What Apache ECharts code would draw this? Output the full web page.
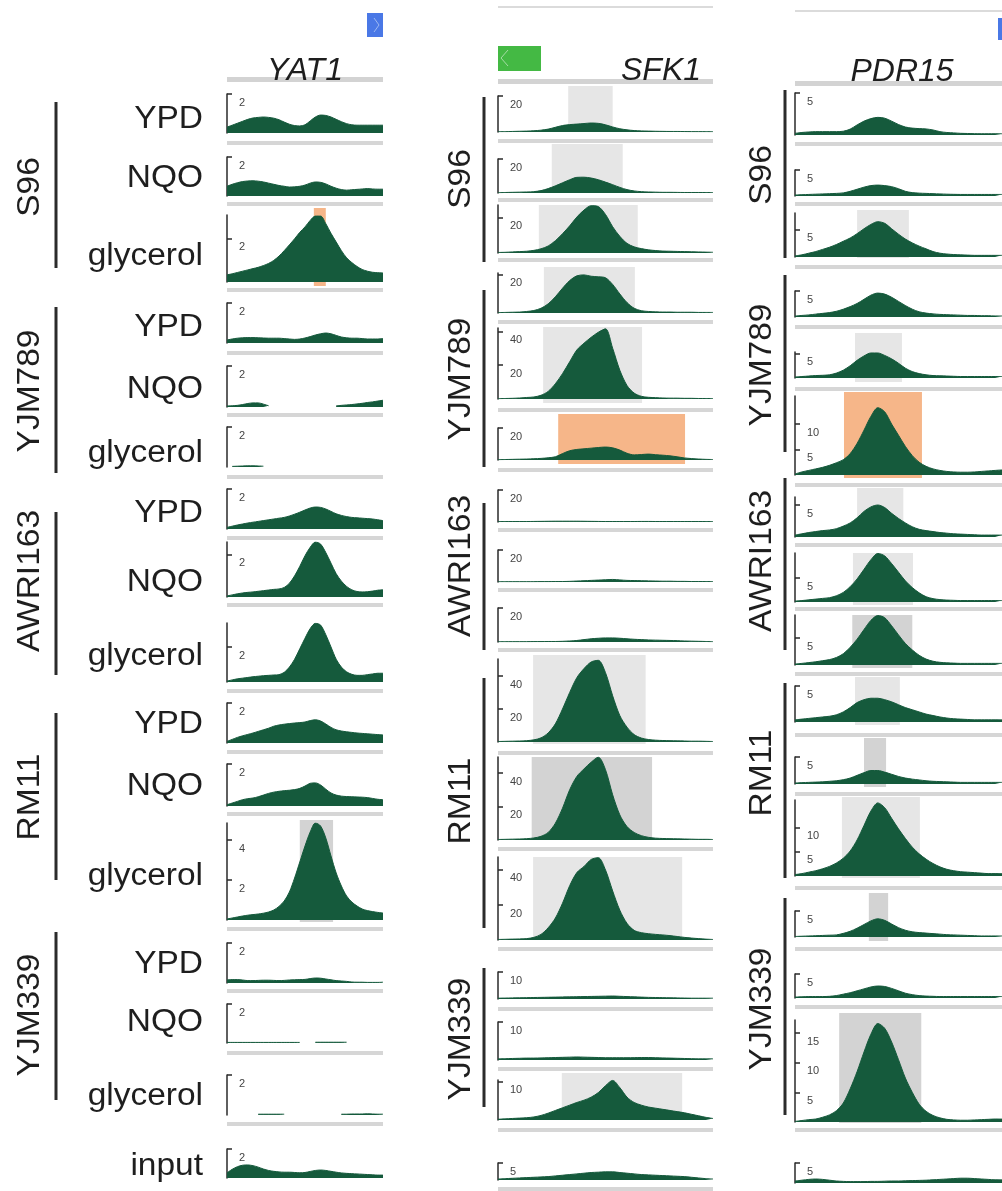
<!DOCTYPE html>
<html>
<head>
<meta charset="utf-8">
<script src="https://cdn.jsdelivr.net/npm/echarts@6/dist/echarts.min.js"></script>
<style>
  html, body { margin: 0; padding: 0; background: #ffffff; }
  #chart { width: 1002px; height: 1191px; }
</style>
</head>
<body>
<div id="chart"></div>
<script>
// ---- categories ----
const genes = ['YAT1', 'SFK1', 'PDR15'];
const strains = ['S96', 'YJM789', 'AWRI163', 'RM11', 'YJM339'];
const conditions = ['YPD', 'NQO', 'glycerol'];
const inputName = 'input';
const BINS = 31; // coverage bins across each gene window ('-' = no reads)

// ---- YAT1 coverage ----
const YAT1_S96_YPD = [0.3,0.4,0.5,0.6,0.7,0.77,0.8,0.82,0.8,0.76,0.68,0.56,0.45,0.38,0.36,0.42,0.62,0.82,0.92,0.9,0.82,0.7,0.58,0.48,0.42,0.4,0.4,0.4,0.4,0.4,0.4];
const YAT1_S96_NQO = [0.5,0.6,0.68,0.74,0.77,0.78,0.76,0.72,0.66,0.6,0.54,0.5,0.46,0.47,0.5,0.56,0.66,0.72,0.7,0.62,0.5,0.4,0.33,0.3,0.32,0.34,0.36,0.38,0.36,0.35,0.35];
const YAT1_S96_GLY = [0.33,0.38,0.44,0.5,0.56,0.62,0.68,0.76,0.86,1.0,1.2,1.45,1.72,2.0,2.3,2.55,2.85,3.05,3.05,2.7,2.25,1.85,1.45,1.12,0.9,0.72,0.58,0.5,0.45,0.43,0.42];
const YAT1_YJM789_YPD = [0.15,0.2,0.24,0.26,0.27,0.27,0.26,0.25,0.24,0.24,0.24,0.22,0.2,0.18,0.2,0.25,0.32,0.4,0.46,0.5,0.46,0.38,0.3,0.26,0.24,0.24,0.22,0.2,0.2,0.2,0.22];
const YAT1_YJM789_NQO = [0.05,0.06,0.08,0.12,0.17,0.2,0.2,0.14,0.06,'-','-','-','-','-','-','-','-','-','-','-','-',0.05,0.08,0.1,0.12,0.15,0.18,0.22,0.25,0.29,0.33];
const YAT1_YJM789_GLY = ['-',0.03,0.04,0.05,0.06,0.06,0.05,0.04,'-','-','-','-','-','-','-','-','-','-','-','-','-','-','-','-','-','-','-','-','-','-','-'];
const YAT1_AWRI163_YPD = [0.08,0.14,0.2,0.25,0.3,0.34,0.38,0.42,0.46,0.5,0.54,0.58,0.65,0.74,0.84,0.95,1.05,1.1,1.08,1.0,0.88,0.76,0.68,0.62,0.58,0.56,0.54,0.52,0.5,0.46,0.42];
const YAT1_AWRI163_NQO = [0.05,0.1,0.15,0.19,0.22,0.24,0.27,0.3,0.33,0.36,0.38,0.45,0.65,1.0,1.45,1.95,2.35,2.6,2.5,2.1,1.6,1.1,0.75,0.5,0.34,0.26,0.24,0.25,0.28,0.32,0.34];
const YAT1_AWRI163_GLY = [0.05,0.12,0.18,0.22,0.26,0.3,0.33,0.36,0.38,0.4,0.42,0.55,0.85,1.3,1.9,2.5,3.05,3.35,3.25,2.7,2.0,1.3,0.85,0.58,0.44,0.38,0.38,0.42,0.46,0.5,0.5];
const YAT1_RM11_YPD = [0.08,0.18,0.28,0.36,0.43,0.5,0.58,0.66,0.74,0.84,0.9,0.94,0.97,1.0,1.02,1.05,1.12,1.16,1.1,0.95,0.78,0.66,0.6,0.56,0.53,0.5,0.48,0.46,0.44,0.42,0.4];
const YAT1_RM11_NQO = [0.06,0.14,0.22,0.3,0.35,0.38,0.44,0.52,0.6,0.66,0.7,0.73,0.75,0.78,0.84,0.95,1.08,1.1,1.0,0.8,0.62,0.52,0.47,0.45,0.44,0.43,0.42,0.4,0.36,0.32,0.3];
const YAT1_RM11_GLY = [0.05,0.1,0.15,0.2,0.24,0.27,0.3,0.34,0.4,0.5,0.68,0.95,1.4,2.1,2.9,3.7,4.4,4.85,4.7,4.1,3.2,2.35,1.7,1.2,0.9,0.7,0.55,0.47,0.42,0.38,0.35];
const YAT1_YJM339_YPD = [0.15,0.17,0.17,0.15,0.12,0.12,0.13,0.14,0.14,0.13,0.12,0.13,0.15,0.16,0.17,0.18,0.22,0.25,0.24,0.2,0.16,0.12,0.1,0.08,0.05,0.04,0.04,0.03,0.03,0.03,0.04];
const YAT1_YJM339_NQO = [0.03,0.03,0.03,0.03,0.03,0.03,0.03,0.03,0.03,0.03,0.03,0.03,0.03,0.03,0.03,'-','-',0.04,0.04,0.04,0.04,0.04,0.04,0.04,'-','-','-','-','-','-','-'];
const YAT1_YJM339_GLY = ['-','-','-','-','-','-',0.04,0.04,0.04,0.04,0.04,0.04,'-','-','-','-','-','-','-','-','-','-',0.04,0.04,0.05,0.05,0.05,0.06,0.05,0.04,0.04];
const YAT1_INPUT = [0.35,0.6,0.78,0.88,0.9,0.85,0.75,0.62,0.52,0.46,0.42,0.4,0.4,0.38,0.36,0.38,0.45,0.52,0.55,0.52,0.46,0.4,0.35,0.32,0.3,0.28,0.26,0.24,0.22,0.2,0.2];

// ---- SFK1 coverage ----
const SFK1_S96_YPD = [0.2,0.2,0.3,0.4,0.5,0.7,1.0,1.6,2.6,3.6,4.1,4.4,4.7,5.0,4.8,4.0,2.8,1.8,1.2,0.8,0.6,0.5,0.4,0.35,0.3,0.3,0.25,0.2,0.2,0.2,0.2];
const SFK1_S96_NQO = [0.2,0.3,0.4,0.5,0.6,0.8,1.4,2.6,4.2,6.0,7.8,9.2,9.3,8.8,7.8,6.4,4.9,3.3,2.0,1.2,0.8,0.6,0.5,0.4,0.4,0.35,0.3,0.3,0.3,0.3,0.3];
const SFK1_S96_GLY = [0.3,0.4,0.6,0.8,1.0,1.5,2.4,4.0,7.0,11,15.5,20.5,24.5,27,26.5,22,15,9.5,5.5,3.5,2.5,1.8,1.4,1.1,1.0,0.9,0.8,0.7,0.6,0.5,0.4];
const SFK1_YJM789_YPD = [0.2,0.3,0.4,0.5,0.8,1.3,2.5,4.8,8.5,13,17,19.5,20,19.3,19,18.5,15,10,5.5,2.5,1.2,0.8,0.6,0.5,0.5,0.4,0.4,0.4,0.3,0.3,0.3];
const SFK1_YJM789_NQO = [0.2,0.3,0.4,0.6,0.9,1.2,2.2,4.5,9,15,22,29,33,36.5,39.5,41.5,30,17,8,3.5,1.6,1.0,0.8,0.6,0.5,0.5,0.4,0.4,0.3,0.3,0.3];
const SFK1_YJM789_GLY = [0.2,0.3,0.4,0.5,0.6,0.8,1.0,1.4,2.0,4.0,5.8,6.6,7.0,7.4,7.8,8.1,7.6,6.2,4.2,3.2,3.4,3.7,3.3,3.0,2.6,2.0,1.3,0.9,0.6,0.4,0.3];
const SFK1_AWRI163_YPD = [0.3,0.3,0.3,0.3,0.3,0.35,0.4,0.45,0.5,0.5,0.5,0.5,0.45,0.4,0.35,0.3,0.3,0.3,0.3,0.3,0.35,0.35,0.3,0.3,0.3,0.3,0.3,0.3,0.3,0.3,0.3];
const SFK1_AWRI163_NQO = [0.2,0.2,0.2,0.2,0.2,0.2,0.25,0.25,0.3,0.3,0.4,0.6,0.8,1.0,1.2,1.4,1.6,1.3,1.0,0.9,0.8,0.7,0.6,0.5,0.5,0.4,0.4,0.3,0.3,0.3,0.3];
const SFK1_AWRI163_GLY = [0.2,0.2,0.2,0.2,0.2,0.25,0.25,0.3,0.3,0.4,0.6,0.9,1.4,1.9,2.2,2.4,2.4,2.2,1.9,1.6,1.4,1.2,1.1,1.0,0.9,0.8,0.6,0.5,0.4,0.3,0.2];
const SFK1_RM11_YPD = [0.3,0.4,0.5,0.6,0.8,1.3,2.5,5.5,11,20,30,39,44.5,48.5,49.5,42,28,16,9,4.5,2.4,1.5,1.1,0.9,0.8,0.7,0.6,0.5,0.5,0.4,0.3];
const SFK1_RM11_NQO = [0.3,0.4,0.5,0.6,0.8,1.2,2.2,4.5,10,19,30,38,42.5,46.5,49.5,42,27,15,8,4.5,2.6,1.6,1.1,0.9,0.8,0.7,0.6,0.5,0.4,0.4,0.3];
const SFK1_RM11_GLY = [0.3,0.4,0.5,0.6,0.8,1.5,3.2,7,12.5,21,31,38.5,42,46,47,40,28,17,9.5,5.5,4.2,3.6,3.2,2.9,2.5,2.0,1.5,1.1,0.8,0.5,0.3];
const SFK1_YJM339_YPD = [0.3,0.35,0.4,0.45,0.5,0.55,0.6,0.65,0.7,0.75,0.8,0.85,0.9,0.95,1.0,1.05,1.1,1.0,0.9,0.8,0.7,0.6,0.55,0.5,0.45,0.4,0.35,0.3,0.3,0.3,0.3];
const SFK1_YJM339_NQO = [0.3,0.35,0.4,0.45,0.5,0.5,0.55,0.6,0.65,0.7,0.75,0.8,0.75,0.7,0.65,0.6,0.6,0.6,0.6,0.62,0.65,0.65,0.6,0.55,0.5,0.45,0.4,0.35,0.3,0.3,0.3];
const SFK1_YJM339_GLY = [0.2,0.3,0.4,0.5,0.6,0.8,1.2,1.8,2.5,3.2,3.9,4.6,5.2,6.0,7.2,9.0,10.4,8.5,6.0,4.6,3.9,3.4,3.1,2.8,2.5,2.2,1.9,1.5,1.1,0.7,0.4];
const SFK1_INPUT = [0.3,0.4,0.5,0.6,0.7,0.8,0.9,1.0,1.2,1.4,1.6,1.8,2.0,2.2,2.3,2.4,2.4,2.2,2.0,1.8,1.6,1.5,1.4,1.3,1.2,1.1,1.0,0.8,0.6,0.4,0.3];

// ---- PDR15 coverage ----
const PDR15_S96_YPD = [0.2,0.3,0.36,0.4,0.4,0.4,0.4,0.45,0.7,1.2,1.65,1.95,2.1,2.0,1.65,1.25,0.95,0.82,0.76,0.72,0.6,0.4,0.3,0.25,0.2,0.18,0.16,0.15,0.15,0.15,0.15];
const PDR15_S96_NQO = [0.2,0.25,0.3,0.35,0.4,0.45,0.5,0.6,0.9,1.3,1.7,2.0,2.1,2.0,1.8,1.4,0.9,0.65,0.55,0.5,0.45,0.4,0.35,0.32,0.3,0.3,0.3,0.3,0.3,0.3,0.3];
const PDR15_S96_GLY = [0.2,0.4,0.7,1.0,1.4,1.8,2.3,2.9,3.5,4.3,5.2,6.0,6.5,6.2,5.2,4.2,3.3,2.6,2.0,1.5,1.0,0.7,0.55,0.45,0.4,0.35,0.3,0.3,0.3,0.3,0.3];
const PDR15_YJM789_YPD = [0.2,0.3,0.4,0.55,0.7,0.85,1.1,1.5,2.0,2.6,3.4,4.2,4.6,4.4,3.8,3.0,2.2,1.5,1.0,0.75,0.6,0.5,0.45,0.4,0.35,0.3,0.3,0.25,0.25,0.2,0.2];
const PDR15_YJM789_NQO = [0.2,0.3,0.4,0.5,0.55,0.65,1.0,1.6,2.5,3.6,4.5,5.1,5.1,4.6,3.9,3.0,2.0,1.3,0.9,0.65,0.5,0.45,0.4,0.35,0.3,0.3,0.3,0.3,0.3,0.3,0.3];
const PDR15_YJM789_GLY = [0.2,0.6,0.9,1.2,1.5,1.9,2.4,3.0,4.2,6.2,8.8,11.5,13.2,12.4,10.0,7.8,5.6,3.8,2.5,1.7,1.2,0.9,0.7,0.6,0.55,0.55,0.6,0.7,0.8,0.9,1.0];
const PDR15_AWRI163_YPD = [0.3,0.5,0.7,0.85,1.0,1.1,1.3,1.7,2.2,3.0,4.0,4.7,5.0,4.6,3.7,2.9,2.2,1.6,1.2,1.0,0.85,0.7,0.6,0.5,0.45,0.4,0.35,0.3,0.3,0.3,0.3];
const PDR15_AWRI163_NQO = [0.2,0.3,0.45,0.6,0.75,0.9,1.3,2.0,3.2,4.8,6.8,8.8,10.1,9.6,8.0,6.2,4.4,3.0,1.9,1.1,0.7,0.5,0.4,0.35,0.3,0.3,0.3,0.3,0.3,0.3,0.3];
const PDR15_AWRI163_GLY = [0.2,0.3,0.45,0.6,0.8,1.0,1.4,2.1,3.3,4.8,6.6,8.3,9.2,8.8,7.3,5.6,4.0,2.8,1.8,1.1,0.7,0.5,0.4,0.35,0.3,0.3,0.3,0.3,0.3,0.3,0.3];
const PDR15_RM11_YPD = [0.3,0.4,0.5,0.6,0.7,0.8,1.0,1.4,2.0,2.7,3.1,3.3,3.3,3.1,2.8,2.4,2.0,1.7,1.4,1.1,0.9,0.7,0.55,0.45,0.4,0.35,0.3,0.3,0.3,0.3,0.3];
const PDR15_RM11_NQO = [0.2,0.25,0.3,0.35,0.4,0.5,0.6,0.8,1.1,1.6,2.1,2.5,2.5,2.2,1.8,1.4,1.1,0.9,0.75,0.6,0.5,0.45,0.4,0.35,0.3,0.3,0.3,0.3,0.3,0.3,0.3];
const PDR15_RM11_GLY = [0.3,0.5,0.8,1.1,1.5,2.0,2.7,3.7,5.2,7.5,10.5,13.5,15.2,14.2,12.0,9.8,7.8,6.0,4.6,3.5,2.6,1.9,1.4,1.1,0.9,0.8,0.7,0.6,0.5,0.5,0.5];
const PDR15_YJM339_YPD = [0.1,0.15,0.2,0.25,0.3,0.35,0.4,0.7,1.1,1.7,2.4,3.1,3.5,3.2,2.5,1.8,1.3,1.0,0.85,0.75,0.65,0.55,0.45,0.4,0.35,0.3,0.25,0.2,0.2,0.2,0.2];
const PDR15_YJM339_NQO = [0.2,0.25,0.3,0.3,0.3,0.35,0.5,0.8,1.1,1.5,1.9,2.3,2.5,2.4,2.0,1.5,1.0,0.7,0.5,0.4,0.35,0.3,0.3,0.3,0.3,0.3,0.3,0.3,0.3,0.3,0.3];
const PDR15_YJM339_GLY = [0.1,0.25,0.4,0.5,0.8,1.2,1.9,3.2,5.6,8.5,11.8,14.8,16.6,15.8,13.5,10.5,7.4,5.0,3.0,1.8,1.1,0.7,0.45,0.35,0.3,0.3,0.35,0.4,0.45,0.5,0.5];
const PDR15_INPUT = [0.5,0.7,0.9,1.0,0.9,0.7,0.5,0.4,0.35,0.35,0.35,0.4,0.4,0.45,0.5,0.5,0.55,0.6,0.65,0.7,0.8,0.9,1.0,1.1,1.2,1.2,1.1,1.0,0.9,0.8,0.8];

// ---- data range of each track (axis top) and its labelled ticks ----
const YAT1_MAX  = [2,2,3.1,2,2,2,2,2.6,3.37,2,2,4.85,2,2,2,2];
const SFK1_MAX  = [20,20,27.4,21,42,20,20,20,20,50.3,49.6,47.4,10,10,10.5,5];
const PDR15_MAX = [5,5,8.1,5,5.3,15.5,6.25,10.2,9.3,5,5,15.8,5,5,17.2,5];
const YAT1_TICKS  = [[2],[2],[2],[2],[2],[2],[2],[2],[2],[2],[2],[2,4],[2],[2],[2],[2]];
const SFK1_TICKS  = [[20],[20],[20],[20],[20,40],[20],[20],[20],[20],[20,40],[20,40],[20,40],[10],[10],[10],[5]];
const PDR15_TICKS = [[5],[5],[5],[5],[5],[5,10],[5],[5],[5],[5],[5],[5,10],[5],[5],[5,10,15],[5]];

// ---- called regions: [track, fromBin, toBin, kind] ----
const YAT1_REGIONS = [[2,16.7,19.0,'diff'],[11,14,20.4,'strong']];
const SFK1_REGIONS = [[0,9.8,16.0,'peak'],[1,7.5,17.4,'peak'],[2,5.7,19.5,'peak'],[3,6.4,19.1,'peak'],[4,6.3,20.1,'peak'],
                      [5,8.4,26.1,'diff'],[9,4.9,20.6,'peak'],[10,4.7,21.5,'strong'],[11,4.9,25.7,'peak'],[14,8.9,25.7,'peak']];
const PDR15_REGIONS = [[2,9,16.5,'peak'],[4,8.7,15.5,'peak'],[5,7.1,18.4,'diff'],[6,9,15.7,'peak'],[7,8.4,17.1,'peak'],
                       [8,8.3,17,'strong'],[9,8.7,15.2,'peak'],[10,10,13.2,'strong'],[11,6.8,18.1,'peak'],[12,10.7,13.5,'strong'],[14,6.4,18.3,'strong']];

const TRACKS = {
  YAT1: [YAT1_S96_YPD,YAT1_S96_NQO,YAT1_S96_GLY,YAT1_YJM789_YPD,YAT1_YJM789_NQO,YAT1_YJM789_GLY,YAT1_AWRI163_YPD,YAT1_AWRI163_NQO,YAT1_AWRI163_GLY,
         YAT1_RM11_YPD,YAT1_RM11_NQO,YAT1_RM11_GLY,YAT1_YJM339_YPD,YAT1_YJM339_NQO,YAT1_YJM339_GLY,YAT1_INPUT],
  SFK1: [SFK1_S96_YPD,SFK1_S96_NQO,SFK1_S96_GLY,SFK1_YJM789_YPD,SFK1_YJM789_NQO,SFK1_YJM789_GLY,SFK1_AWRI163_YPD,SFK1_AWRI163_NQO,SFK1_AWRI163_GLY,
         SFK1_RM11_YPD,SFK1_RM11_NQO,SFK1_RM11_GLY,SFK1_YJM339_YPD,SFK1_YJM339_NQO,SFK1_YJM339_GLY,SFK1_INPUT],
  PDR15: [PDR15_S96_YPD,PDR15_S96_NQO,PDR15_S96_GLY,PDR15_YJM789_YPD,PDR15_YJM789_NQO,PDR15_YJM789_GLY,PDR15_AWRI163_YPD,PDR15_AWRI163_NQO,PDR15_AWRI163_GLY,
          PDR15_RM11_YPD,PDR15_RM11_NQO,PDR15_RM11_GLY,PDR15_YJM339_YPD,PDR15_YJM339_NQO,PDR15_YJM339_GLY,PDR15_INPUT]
};
const MAXES = { YAT1: YAT1_MAX, SFK1: SFK1_MAX, PDR15: PDR15_MAX };
const TICKS = { YAT1: YAT1_TICKS, SFK1: SFK1_TICKS, PDR15: PDR15_TICKS };
const REGIONS = { YAT1: YAT1_REGIONS, SFK1: SFK1_REGIONS, PDR15: PDR15_REGIONS };

// ---- page layout (pixels) ----
const PANELS = [
  { gene: 'YAT1', left: 227, width: 156, head: 77, title: [305, 71], lineX: 56, labelX: 30,
    top:  [94,157,215,303,366,427,489,542,623,703,764,823,943,1004,1075,1149],
    base: [133,196,282,343,407,467,529,597,682,743,806,920,983,1043,1115,1178],
    sep:  [141,202,288,351,413,475,536,603,689,750,812,927,989,1051,1122],
    band: {2:[208,286], 11:[820,922]},
    groups: [[102,268],[307,473],[512,675],[713,880],[932,1100]],
    nameY: [187,391,581,797,1015] },
  { gene: 'SFK1', left: 498, width: 215, head: 79, title: [661, 71], lineX: 484, labelX: 461,
    top:  [96,159,205,273,328,428,490,550,608,659,757,857,972,1022,1080,1163],
    base: [132,193,253,313,399,460,522,582,642,742,840,940,999,1060,1120,1180],
    sep:  [139,198,258,320,408,468,528,588,648,751,847,947,1007,1067,1128,1187],
    band: {0:[86,132],1:[144,193],2:[205,253],3:[267,313],4:[327,403],5:[414,464],9:[655,744],10:[757,840],11:[857,940],14:[1073,1120]},
    groups: [[97,262],[290,467],[503,650],[678,928],[968,1107]],
    nameY: [179,379,566,801,1039] },
  { gene: 'PDR15', left: 795, width: 207, head: 81, title: [902, 72], lineX: 785, labelX: 762,
    top:  [93,170,213,291,352,396,497,553,615,686,757,800,911,974,1020,1163],
    base: [135,196,257,317,378,475,537,602,665,722,784,876,937,998,1122,1183],
    sep:  [142,202,265,325,387,483,543,607,672,733,792,886,947,1005,1128],
    band: {2:[210,258],4:[333,382],5:[392,478],6:[488,537],7:[553,605],8:[615,668],9:[677,725],10:[738,787],11:[797,878],12:[893,941],14:[1013,1123]},
    groups: [[90,258],[275,452],[478,650],[683,878],[898,1115]],
    nameY: [175,365,561,773,1009] }
];
const ROW_LABEL_Y = [119,178,256,327,389,453,513,582,656,724,786,876,964,1022,1096,1166];

const GREEN = '#155a3c';
const REGION_FILL = { peak: '#e6e6e6', strong: '#d3d3d3', diff: '#f6b689' };
const FONT = '"Liberation Sans", Arial, sans-serif';
const LABEL_FONT = '31px ' + FONT;
const LABEL_STRETCH = 1.08;

const grid = [], xAxis = [], yAxis = [], series = [], graphic = [];

function addAxes(g, top, height, ymax, yOpts) {
  const idx = grid.length;
  grid.push({ left: g.left, top: top, width: g.width, height: height, containLabel: false });
  xAxis.push({ gridIndex: idx, type: 'value', min: 0, max: BINS - 1, show: false });
  yAxis.push(Object.assign({ gridIndex: idx, type: 'value', min: 0, max: ymax, splitLine: { show: false } }, yOpts));
  return idx;
}

PANELS.forEach(p => {
  const g = p.gene;
  // called regions sit in their own strip so they can run past the track frame
  REGIONS[g].forEach(([t, from, to, kind]) => {
    const b = p.band[t];
    const idx = addAxes(p, b[0], b[1] - b[0], 1, { show: false });
    series.push({
      type: 'line', xAxisIndex: idx, yAxisIndex: idx, z: 1, silent: true,
      symbol: 'none', lineStyle: { opacity: 0 }, data: [[from, 0], [to, 0]],
      markArea: { silent: true, itemStyle: { color: REGION_FILL[kind] },
        data: [[{ xAxis: from, yAxis: 0 }, { xAxis: to, yAxis: 1 }]] }
    });
  });
  // coverage tracks
  TRACKS[g].forEach((vals, t) => {
    const ticks = TICKS[g][t];
    const idx = addAxes(p, p.top[t], p.base[t] - p.top[t], MAXES[g][t], {
      axisLine: { show: true, onZero: false, lineStyle: { color: '#2a2a2a', width: 1.5 } },
      axisTick: { show: true, inside: true, length: 5, customValues: ticks, lineStyle: { color: '#2a2a2a', width: 1.5 } },
      axisLabel: { show: true, inside: true, customValues: ticks, margin: 12, fontSize: 11,
                   fontFamily: FONT, color: '#444', verticalAlign: 'top', padding: [3, 0, 0, 0] }
    });
    series.push({
      type: 'line', xAxisIndex: idx, yAxisIndex: idx, z: 3, silent: true,
      symbol: 'none', smooth: 0.3, connectNulls: false,
      lineStyle: { color: GREEN, width: 1 },
      areaStyle: { color: GREEN, opacity: 1 },
      data: vals.map((v, i) => [i, v])
    });
  });

  // separators under the title and each track
  graphic.push({ type: 'rect', z: 0, shape: { x: p.left, y: p.head, width: p.width, height: 5 }, style: { fill: '#d3d3d3' } });
  p.sep.forEach(y => graphic.push({ type: 'rect', z: 0, shape: { x: p.left, y: y, width: p.width, height: 4 }, style: { fill: '#d6d6d6' } }));

  // gene name
  graphic.push({ type: 'text', z: 5, x: p.title[0], y: p.title[1],
    style: { text: g, fill: '#1e1e1e', font: 'italic 32px ' + FONT, align: 'center', verticalAlign: 'middle' } });

  // strain brackets and names
  strains.forEach((s, k) => {
    const [y0, y1] = p.groups[k];
    graphic.push({ type: 'line', z: 5, shape: { x1: p.lineX, y1: y0, x2: p.lineX, y2: y1 }, style: { stroke: '#2b2b2b', lineWidth: 3 } });
    graphic.push({ type: 'text', z: 5, x: p.labelX, y: p.nameY[k], rotation: Math.PI / 2, scaleX: LABEL_STRETCH,
      style: { text: s, fill: '#1e1e1e', font: LABEL_FONT, align: 'center', verticalAlign: 'middle' } });
  });
});

// condition names beside the first panel
const rowNames = [];
strains.forEach(() => conditions.forEach(c => rowNames.push(c)));
rowNames.push(inputName);
rowNames.forEach((name, i) => graphic.push({ type: 'text', z: 5, x: 203, y: ROW_LABEL_Y[i], scaleX: LABEL_STRETCH,
  style: { text: name, fill: '#1e1e1e', font: LABEL_FONT, align: 'right', verticalAlign: 'middle' } }));

// gene-model strip above the tracks
graphic.push({ type: 'line', shape: { x1: 498, y1: 7, x2: 713, y2: 7 }, style: { stroke: '#cfcfcf', lineWidth: 1.5 } });
graphic.push({ type: 'line', shape: { x1: 795, y1: 11, x2: 1002, y2: 11 }, style: { stroke: '#cfcfcf', lineWidth: 1.5 } });
graphic.push({ type: 'rect', shape: { x: 367, y: 13, width: 16, height: 24 }, style: { fill: '#4a78e6' } });
graphic.push({ type: 'polyline', shape: { points: [[374, 18], [379, 25], [374, 32]] }, style: { stroke: '#9db8f2', lineWidth: 1, fill: null } });
graphic.push({ type: 'rect', shape: { x: 498, y: 46, width: 43, height: 25 }, style: { fill: '#44b944' } });
graphic.push({ type: 'polyline', shape: { points: [[508, 50], [501, 58], [508, 66]] }, style: { stroke: '#a5dca5', lineWidth: 1, fill: null } });
graphic.push({ type: 'rect', shape: { x: 998, y: 18, width: 4, height: 22 }, style: { fill: '#4a78e6' } });

const chart = echarts.init(document.getElementById('chart'), null, { renderer: 'canvas' });
chart.setOption({
  backgroundColor: '#ffffff',
  animation: false,
  grid, xAxis, yAxis, series, graphic
});
</script>
</body>
</html>
